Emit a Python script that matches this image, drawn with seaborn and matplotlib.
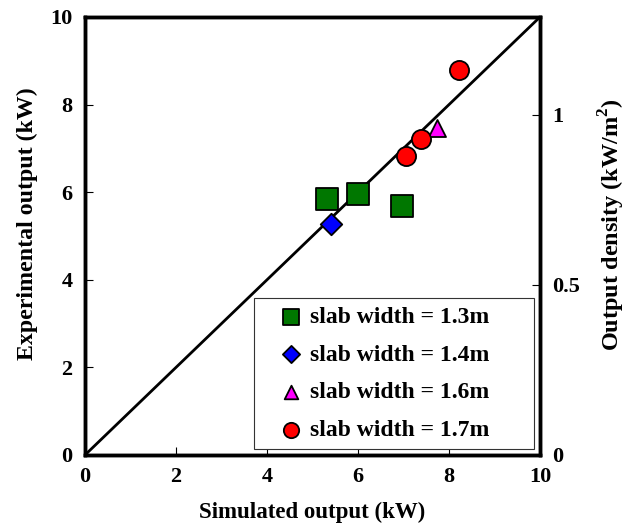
import matplotlib
matplotlib.use("Agg")
import matplotlib.pyplot as plt
import seaborn as sns
import pandas as pd

# data
groups = ["slab width = 1.3m", "slab width = 1.4m", "slab width = 1.6m", "slab width = 1.7m"]
sim_13 = [5.31, 6.01, 6.96]
exp_13 = [5.85, 5.95, 5.69]
sim_14 = [5.40]
exp_14 = [5.27]
sim_16 = [7.73]
exp_16 = [7.47]
sim_17 = [7.05, 7.38, 8.21]
exp_17 = [6.83, 7.22, 8.78]
diag = [0, 10]
x_ticks = [0, 2, 4, 6, 8, 10]
y_ticks = [0, 2, 4, 6, 8, 10]
right_ticks = [0, 0.5, 1]
right_max = 1.288

colors = ["#007700", "#0000ff", "#ff00ff", "#ff0000"]
markers = ["s", "D", "^", "o"]
sizes = [230, 120, 150, 190]

sns.set_style("white")
plt.rcParams["font.family"] = ["Liberation Serif", "DejaVu Serif"]
plt.rcParams["font.weight"] = "bold"
plt.rcParams["text.color"] = "black"
plt.rcParams["axes.labelcolor"] = "black"
plt.rcParams["xtick.color"] = "black"
plt.rcParams["ytick.color"] = "black"
plt.rcParams["mathtext.fontset"] = "custom"
plt.rcParams["mathtext.rm"] = "Liberation Serif:bold"
plt.rcParams["mathtext.bf"] = "Liberation Serif:bold"

fig = plt.figure(figsize=(6.28, 5.27), dpi=100)
ax = fig.add_axes([85/628, 1-455/527, 455/628, 438/527])

ax.plot(diag, diag, color="black", lw=2, zorder=1)

sims = [sim_13, sim_14, sim_16, sim_17]
exps = [exp_13, exp_14, exp_16, exp_17]
for g, sx, ey, c, m, s in zip(groups, sims, exps, colors, markers, sizes):
    df = pd.DataFrame({"sim": sx, "exp": ey})
    sns.scatterplot(data=df, x="sim", y="exp", ax=ax, marker=m, s=s, color=c,
                    edgecolor="black", linewidth=1.3, label=g, zorder=3)

ax.set_xlim(0, 10)
ax.set_ylim(0, 10)
ax.set_xticks(x_ticks)
ax.set_yticks(y_ticks)
ax.tick_params(direction="in", length=6, width=0.8, labelsize=16, pad=9,
               top=False, right=False, bottom=True, left=True, colors="black")
for lab in ax.get_xticklabels() + ax.get_yticklabels():
    lab.set_fontweight("bold")
for sp in ax.spines.values():
    sp.set_linewidth(2.5)
    sp.set_color("black")
ax.set_xlabel("Simulated output (kW)", fontsize=16.5, fontweight="bold", labelpad=10)
ax.set_ylabel("Experimental output (kW)", fontsize=17.2, fontweight="bold")
ax.yaxis.set_label_coords(-0.103, 0.527)

leg = ax.legend(loc="lower left", bbox_to_anchor=(0.371, 0.0137, 0.616, 0.2),
                mode="expand",
                prop={"weight": "bold", "size": 17}, frameon=True, fancybox=False,
                edgecolor="#333333", framealpha=1, markerscale=0.8,
                handletextpad=-0.41, labelspacing=0.68, borderpad=0.35, handlelength=2.43,
                borderaxespad=0)
leg.get_frame().set_linewidth(0.8)

ax2 = ax.twinx()
ax2.set_ylim(0, right_max)
ax2.set_yticks(right_ticks)
ax2.set_yticklabels(["0", "0.5", "1"])
ax2.tick_params(direction="in", length=6, width=0.8, labelsize=16, pad=9, colors="black")
for lab in ax2.get_yticklabels():
    lab.set_fontweight("bold")
for sp in ax2.spines.values():
    sp.set_linewidth(2.5)
    sp.set_color("black")
ax2.set_ylabel(r"Output density (kW/m$^{\mathbf{2}}$)", fontsize=17.5, fontweight="bold")
ax2.yaxis.set_label_coords(1.125, 0.527)

fig.savefig("out.png", dpi=100)
